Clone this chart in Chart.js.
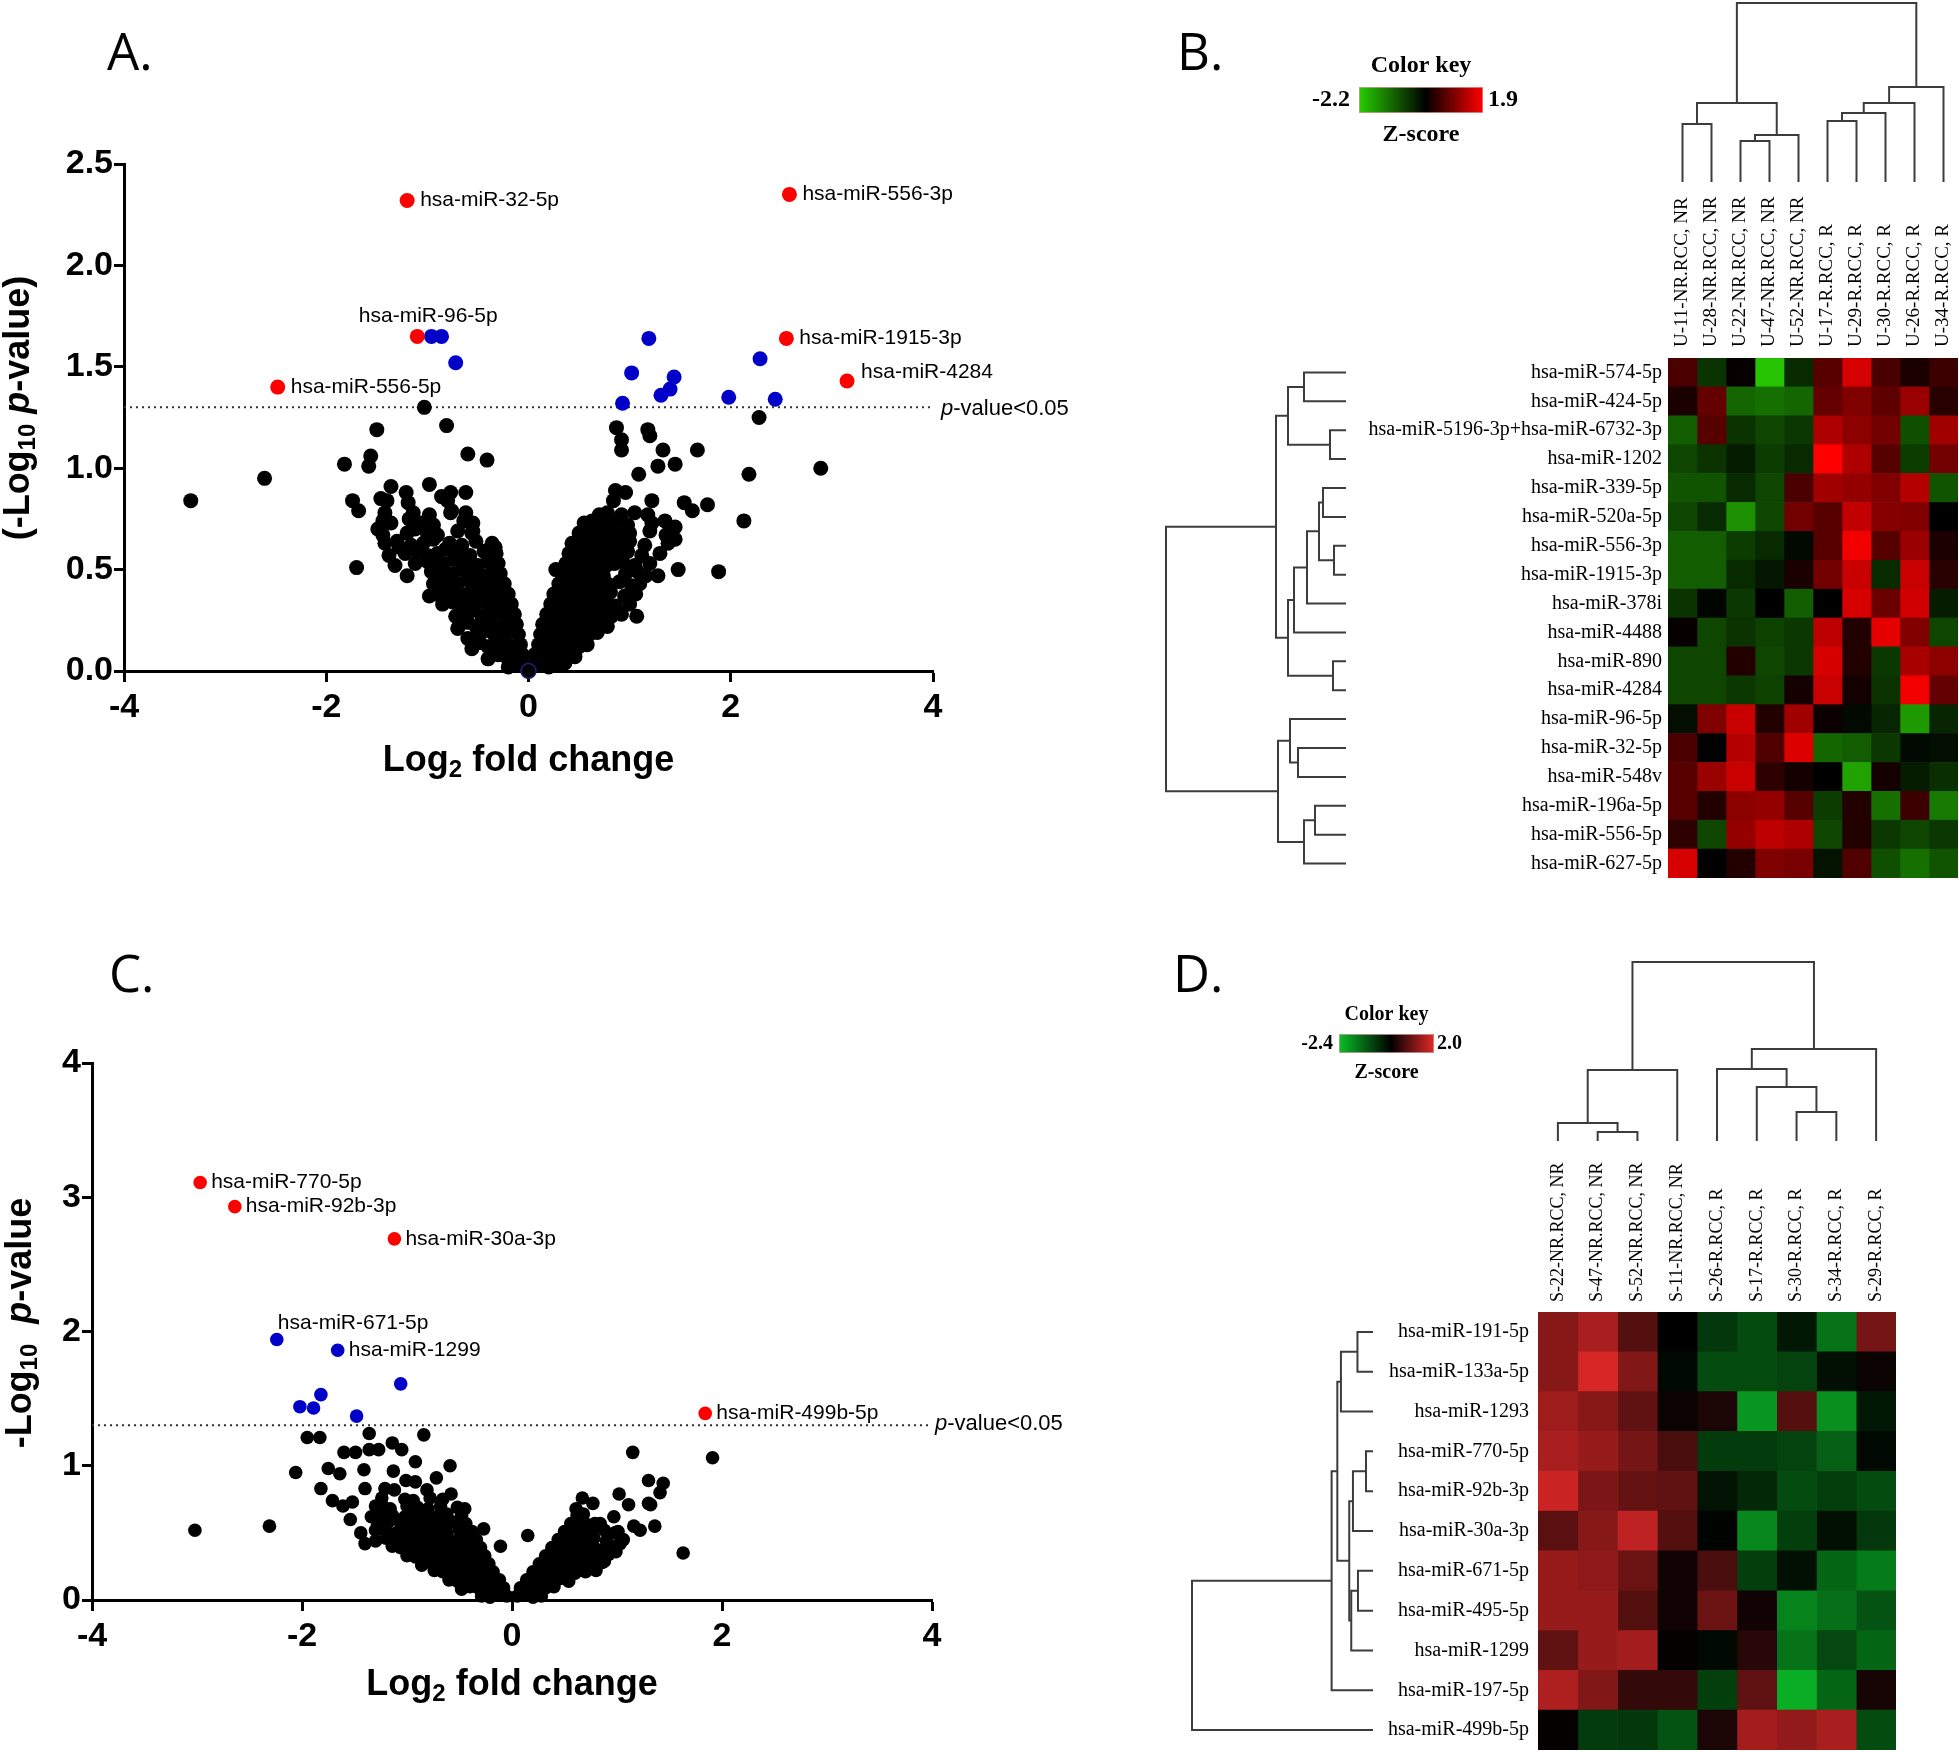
<!DOCTYPE html>
<html>
<head>
<meta charset="utf-8">
<title>miRNA volcano plots and heatmaps</title>
<script src="https://cdn.jsdelivr.net/npm/chart.js@4.4.1/dist/chart.umd.min.js"></script>
<style>
  html,body{margin:0;padding:0;background:#fff;}
  body{position:relative;width:1959px;height:1752px;overflow:hidden;}
  canvas{position:absolute;}
</style>
</head>
<body>
<script>
// ---------- data: panel A (urine) ----------
const pCut = 0.05;
const xTicks = [-4, -2, 0, 2, 4];
const aYTicks = [0, 0.5, 1, 1.5, 2, 2.5];
const cYTicks = [0, 1, 2, 3, 4];

const aRed = [[-1.20,2.32],[2.58,2.35],[-1.10,1.65],[2.55,1.64],[3.15,1.43],[-2.48,1.40]];
const aRedNames = ['hsa-miR-32-5p','hsa-miR-556-3p','hsa-miR-96-5p','hsa-miR-1915-3p','hsa-miR-4284','hsa-miR-556-5p'];
const aBlue = [[-0.96,1.65],[-0.86,1.65],[-0.72,1.52],[1.19,1.64],[1.02,1.47],[1.44,1.45],[1.31,1.36],[1.40,1.39],[0.93,1.32],[1.98,1.35],[2.29,1.54],[2.44,1.34]];
const aOrigin = [[0,0]];
const aBlackOuter = [[-3.34,0.84],[-2.61,0.95],[-1.82,1.02],[-1.56,1.06],[-1.58,1.01],[-1.50,1.19],[-1.03,1.30],[-0.81,1.21],[-0.60,1.07],[-0.41,1.04],
  [-0.98,0.92],[-1.36,0.91],[-1.21,0.88],[-1.19,0.83],[-0.86,0.86],[-0.77,0.88],[-0.62,0.88],[-1.74,0.84],[-1.68,0.79],[-1.49,0.70],[-1.28,0.61],
  [-1.70,0.51],[-1.32,0.52],[-1.20,0.47],[-0.77,0.78],[-0.64,0.74],[-0.55,0.69],[-0.33,0.61],[-1.40,0.84],[-1.42,0.78],[-1.44,0.74],
  [0.87,1.20],[0.92,1.14],[0.92,1.09],[1.18,1.19],[1.20,1.16],[1.33,1.09],[1.67,1.09],[1.28,1.01],[1.45,1.02],[1.09,0.97],[0.86,0.89],[0.96,0.88],
  [0.84,0.84],[1.22,0.84],[1.54,0.83],[1.62,0.79],[1.77,0.82],[2.18,0.97],[2.13,0.74],[2.28,1.25],[1.88,0.49],[1.48,0.50],[1.28,0.47],[1.07,0.27],
  [0.27,0.50],[1.45,0.71],[1.45,0.65],[2.89,1.00]];
const aBlackLeft = [[-0.05,.03],[-0.12,.04],[-0.2,.02],
  [-0.06,.08],[-0.14,.09],[-0.22,.07],[-0.3,.08],[-0.4,.06],
  [-0.08,.13],[-0.16,.12],[-0.24,.14],[-0.32,.13],[-0.4,.12],[-0.48,.14],[-0.56,.11],
  [-0.1,.18],[-0.18,.19],[-0.26,.17],[-0.34,.18],[-0.42,.2],[-0.5,.18],[-0.6,.16],
  [-0.12,.23],[-0.2,.24],[-0.28,.22],[-0.36,.23],[-0.44,.25],[-0.52,.22],[-0.6,.24],[-0.7,.21],
  [-0.14,.28],[-0.22,.27],[-0.3,.29],[-0.38,.28],[-0.46,.27],[-0.54,.3],[-0.62,.28],[-0.72,.27],
  [-0.17,.33],[-0.25,.34],[-0.33,.32],[-0.41,.33],[-0.49,.35],[-0.57,.33],[-0.65,.32],[-0.75,.34],[-0.85,.33],
  [-0.2,.38],[-0.28,.39],[-0.36,.37],[-0.44,.38],[-0.52,.4],[-0.6,.38],[-0.7,.37],[-0.8,.39],[-0.9,.38],[-0.98,.37],
  [-0.24,.43],[-0.32,.44],[-0.4,.42],[-0.5,.43],[-0.6,.45],[-0.7,.43],[-0.78,.42],[-0.86,.44],[-0.94,.43],
  [-0.28,.48],[-0.36,.49],[-0.46,.47],[-0.56,.48],[-0.66,.5],[-0.76,.48],[-0.86,.47],[-0.96,.49],
  [-0.3,.53],[-0.4,.54],[-0.5,.52],[-0.62,.53],[-0.74,.55],[-0.84,.53],[-0.92,.52],[-1.0,.54],[-1.12,.53],
  [-0.32,.58],[-0.44,.59],[-0.58,.57],[-0.7,.58],[-0.82,.6],[-0.9,.58],[-1.0,.57],[-1.1,.59],[-1.22,.58],[-1.38,.57],
  [-0.36,.63],[-0.52,.64],[-0.66,.62],[-0.78,.63],[-0.94,.65],[-1.04,.63],[-1.16,.62],[-1.3,.64],[-1.42,.63],
  [-0.56,.68],[-0.7,.69],[-0.9,.67],[-1.0,.68],[-1.12,.7],[-1.2,.68],[-1.44,.67],
  [-0.55,.73],[-0.62,.74],[-0.94,.72],[-1.06,.73],[-1.18,.75],[-1.36,.73],
  [-0.62,.78],[-0.76,.79],[-0.98,.77],[-1.14,.78],[-0.8,.84],[-1.46,.85]];
const aBlackRight = [[0.05,.03],[0.12,.04],[0.2,.02],[0.28,.03],[0.36,.04],
  [0.06,.08],[0.14,.09],[0.22,.07],[0.3,.08],[0.38,.09],[0.46,.07],
  [0.1,.13],[0.18,.14],[0.26,.12],[0.34,.13],[0.42,.14],[0.5,.12],[0.58,.13],
  [0.12,.18],[0.2,.19],[0.28,.17],[0.36,.18],[0.44,.19],[0.52,.17],[0.6,.18],[0.68,.19],
  [0.14,.23],[0.22,.24],[0.3,.22],[0.38,.23],[0.46,.24],[0.54,.22],[0.62,.23],[0.7,.24],[0.78,.22],
  [0.18,.28],[0.26,.29],[0.34,.27],[0.42,.28],[0.5,.29],[0.58,.27],[0.66,.28],[0.74,.29],[0.82,.27],[0.92,.28],
  [0.22,.33],[0.3,.34],[0.38,.32],[0.46,.33],[0.54,.34],[0.62,.32],[0.7,.33],[0.78,.34],[0.86,.32],[1.0,.33],
  [0.25,.38],[0.33,.39],[0.41,.37],[0.49,.38],[0.57,.39],[0.65,.37],[0.73,.38],[0.81,.39],[0.95,.37],[1.06,.38],
  [0.3,.43],[0.38,.44],[0.46,.42],[0.54,.43],[0.62,.44],[0.7,.42],[0.78,.43],[0.9,.44],[1.02,.42],[1.1,.43],
  [0.34,.48],[0.42,.49],[0.5,.47],[0.58,.48],[0.66,.49],[0.74,.47],[0.96,.48],[1.08,.49],[1.16,.47],
  [0.37,.53],[0.45,.54],[0.53,.52],[0.61,.53],[0.69,.54],[0.77,.52],[0.85,.53],[0.93,.54],[1.05,.52],[1.2,.53],
  [0.4,.58],[0.48,.59],[0.56,.57],[0.64,.58],[0.72,.59],[0.8,.57],[0.88,.58],[0.98,.59],[1.12,.57],[1.3,.58],
  [0.43,.63],[0.51,.64],[0.59,.62],[0.67,.63],[0.75,.64],[0.83,.62],[0.91,.63],[1.0,.64],[1.15,.62],[1.38,.63],
  [0.5,.68],[0.58,.69],[0.66,.67],[0.74,.68],[0.82,.69],[0.9,.67],[1.0,.68],[1.2,.69],[1.36,.67],
  [0.55,.73],[0.63,.74],[0.72,.72],[0.8,.73],[0.88,.74],[0.98,.72],[1.22,.73],[1.35,.74],
  [0.7,.77],[0.78,.78],[0.92,.77],[1.05,.78],[1.18,.77]];

// ---------- data: panel C (serum) ----------
const cRed = [[-2.97,3.11],[-2.64,2.93],[-1.12,2.69],[1.84,1.39]];
const cRedNames = ['hsa-miR-770-5p','hsa-miR-92b-3p','hsa-miR-30a-3p','hsa-miR-499b-5p'];
const cBlue = [[-2.24,1.94],[-1.66,1.86],[-1.06,1.61],[-1.82,1.53],[-2.02,1.44],[-1.89,1.43],[-1.48,1.37]];
const cBlueNames = ['hsa-miR-671-5p','hsa-miR-1299','','','','',''];
const cBlackOuter = [[-3.02,0.52],[-2.31,0.55],[-2.06,0.95],[-1.95,1.21],[-1.83,1.21],[-1.36,1.24],[-0.84,1.23],[-1.82,0.83],[-1.71,0.74],
  [-1.54,0.60],[-1.40,0.42],[-1.75,0.98],[-1.64,0.94],[-1.60,1.10],[-1.49,1.10],[-1.36,1.12],[-1.27,1.12],[-1.14,1.17],[-1.05,1.12],
  [-0.92,1.03],[-1.41,0.97],[-1.13,0.96],[-1.01,0.89],[-0.92,0.88],[-0.72,0.91],[-0.59,1.00],[-0.81,0.82],[-0.58,0.79],[-1.40,0.83],
  [-1.21,0.83],[-1.12,0.82],[-1.61,0.70],[-1.52,0.73],[-1.30,0.70],[-0.45,0.68],[-0.27,0.53],[-0.11,0.40],[0.15,0.48],
  [1.15,1.10],[1.91,1.06],[1.63,0.35],[1.30,0.89],[1.44,0.87],[1.41,0.80],[1.32,0.71],[1.02,0.79],[1.11,0.71],[0.67,0.76],
  [0.77,0.72],[0.61,0.68],[1.36,0.55],[1.16,0.55],[1.22,0.52],[0.97,0.62],[1.01,0.51],[1.03,0.42],[0.99,0.36],[0.66,0.62],
  [0.79,0.57],[0.88,0.29],[1.30,0.72]];
const cBlackLeft = [[-0.05,.03],[-0.13,.04],[-0.21,.02],[-0.29,.03],
  [-0.08,.09],[-0.16,.1],[-0.24,.08],[-0.32,.09],[-0.4,.1],[-0.48,.08],
  [-0.12,.15],[-0.2,.16],[-0.28,.14],[-0.36,.15],[-0.44,.16],[-0.52,.14],[-0.6,.15],
  [-0.18,.21],[-0.26,.22],[-0.34,.2],[-0.42,.21],[-0.5,.22],[-0.58,.2],[-0.66,.21],[-0.74,.22],
  [-0.22,.27],[-0.3,.28],[-0.38,.26],[-0.46,.27],[-0.54,.28],[-0.62,.26],[-0.7,.27],[-0.78,.28],[-0.86,.26],
  [-0.26,.33],[-0.35,.34],[-0.44,.32],[-0.52,.33],[-0.6,.34],[-0.68,.32],[-0.76,.33],[-0.84,.34],[-0.92,.32],[-1.0,.33],
  [-0.3,.39],[-0.4,.4],[-0.5,.38],[-0.58,.39],[-0.66,.4],[-0.74,.38],[-0.82,.39],[-0.9,.4],[-0.98,.38],[-1.06,.39],[-1.14,.4],
  [-0.34,.45],[-0.46,.46],[-0.56,.44],[-0.64,.45],[-0.72,.46],[-0.8,.44],[-0.88,.45],[-0.96,.46],[-1.04,.44],[-1.12,.45],[-1.2,.46],[-1.3,.44],
  [-0.38,.51],[-0.5,.52],[-0.62,.5],[-0.7,.51],[-0.78,.52],[-0.86,.5],[-0.94,.51],[-1.02,.52],[-1.1,.5],[-1.2,.51],[-1.3,.52],[-1.44,.5],
  [-0.44,.57],[-0.56,.58],[-0.66,.56],[-0.76,.57],[-0.86,.58],[-0.96,.56],[-1.06,.57],[-1.18,.58],[-1.28,.56],
  [-0.48,.63],[-0.62,.64],[-0.72,.62],[-0.82,.63],[-0.92,.64],[-1.02,.62],[-1.14,.63],[-1.26,.64],[-1.34,.62],
  [-0.52,.69],[-0.68,.7],[-0.8,.68],[-0.9,.69],[-1.0,.7],[-1.16,.68],[-1.22,.69],
  [-0.66,.75],[-0.78,.76],[-0.94,.74],[-1.02,.75],[-1.24,.76]];
const cBlackRight = [[0.05,.03],[0.12,.04],[0.2,.02],[0.28,.03],
  [0.08,.09],[0.16,.1],[0.24,.08],[0.32,.09],[0.4,.1],
  [0.14,.15],[0.22,.16],[0.3,.14],[0.38,.15],[0.46,.16],[0.54,.14],
  [0.2,.21],[0.28,.22],[0.36,.2],[0.44,.21],[0.52,.22],[0.6,.2],[0.7,.21],[0.8,.22],
  [0.26,.27],[0.34,.28],[0.42,.26],[0.5,.27],[0.58,.28],[0.66,.26],[0.76,.27],[0.86,.28],
  [0.32,.33],[0.4,.34],[0.48,.32],[0.56,.33],[0.64,.34],[0.72,.32],[0.82,.33],[0.92,.34],
  [0.38,.39],[0.46,.4],[0.54,.38],[0.62,.39],[0.7,.4],[0.8,.38],[0.9,.39],[0.98,.4],
  [0.44,.45],[0.52,.46],[0.6,.44],[0.68,.45],[0.78,.46],[0.9,.44],[1.06,.45],
  [0.5,.51],[0.58,.52],[0.66,.5],[0.76,.51],[0.88,.52],[0.98,.5],
  [0.56,.57],[0.64,.58],[0.72,.56],[0.84,.57],[0.62,.63],[0.68,.64]];

// ---------- data: panel B heatmap (urine) ----------
const bRows = ['hsa-miR-574-5p','hsa-miR-424-5p','hsa-miR-5196-3p+hsa-miR-6732-3p','hsa-miR-1202','hsa-miR-339-5p','hsa-miR-520a-5p',
  'hsa-miR-556-3p','hsa-miR-1915-3p','hsa-miR-378i','hsa-miR-4488','hsa-miR-890','hsa-miR-4284','hsa-miR-96-5p','hsa-miR-32-5p',
  'hsa-miR-548v','hsa-miR-196a-5p','hsa-miR-556-5p','hsa-miR-627-5p'];
const bCols = ['U-11-NR.RCC, NR','U-28-NR.RCC, NR','U-22-NR.RCC, NR','U-47-NR.RCC, NR','U-52-NR.RCC, NR',
  'U-17-R.RCC, R','U-29-R.RCC, R','U-30-R.RCC, R','U-26-R.RCC, R','U-34-R.RCC, R'];
const bZ = [
  [0.55,-0.55,0.05,-2.10,-0.45,0.65,1.60,0.55,0.20,0.45],
  [0.20,0.75,-1.10,-1.20,-1.10,0.75,0.95,0.70,1.15,0.30],
  [-1.00,0.65,-0.55,-0.75,-0.60,1.30,1.05,0.85,-0.85,1.20],
  [-0.75,-0.55,-0.30,-0.65,-0.45,1.90,1.30,0.65,-0.65,0.85],
  [-0.90,-0.90,-0.45,-0.75,0.55,1.20,1.10,0.95,1.35,-0.90],
  [-0.75,-0.45,-1.55,-0.75,0.85,0.65,1.45,1.00,0.95,0.00],
  [-1.00,-1.00,-0.65,-0.45,-0.10,0.65,1.80,0.65,1.15,0.20],
  [-1.00,-1.00,-0.45,-0.25,0.20,0.85,1.50,-0.45,1.50,0.30],
  [-0.55,-0.05,-0.60,0.00,-1.00,0.00,1.60,0.80,1.55,-0.30],
  [0.05,-0.75,-0.55,-0.70,-0.60,1.40,0.25,1.70,0.95,-0.75],
  [-0.75,-0.75,0.25,-0.75,-0.60,1.60,0.25,-0.60,1.25,1.05],
  [-0.75,-0.75,-0.60,-0.70,0.15,1.50,0.15,-0.55,1.80,0.75],
  [-0.15,0.95,1.50,0.25,1.20,0.10,-0.10,-0.40,-1.65,-0.40],
  [0.55,0.00,1.35,0.60,1.65,-1.10,-1.00,-0.60,-0.10,-0.15],
  [0.65,1.15,1.50,0.35,0.15,0.00,-1.75,0.15,-0.30,-0.50],
  [0.65,0.25,1.05,1.10,0.65,-0.65,0.25,-1.20,0.45,-1.30],
  [0.35,-0.75,1.10,1.40,1.30,-0.75,0.25,-0.60,-0.75,-0.60],
  [1.60,0.00,0.25,0.95,0.90,-0.20,0.60,-0.85,-1.20,-0.90]];
const bKey = [-2.2, 1.9];
// merges: negative = leaf (1-based), positive = earlier merge (1-based), then height
const bColMerges = [[-1,-2,58],[-3,-4,41],[2,-5,47],[1,3,79],[-6,-7,61],[5,-8,69],[6,-9,79],[7,-10,95],[4,8,179]];
const bRowMerges = [[-1,-2,42],[-3,-4,16],[1,2,58],[-5,-6,23],[-7,-8,12],[4,5,27],[6,-9,39],[7,-10,52],[-11,-12,13],
  [8,9,58],[3,10,70],[-14,-15,48],[-13,12,56],[-16,-17,31],[14,-18,42],[13,15,68],[11,16,180]];

// ---------- data: panel D heatmap (serum) ----------
const dRows = ['hsa-miR-191-5p','hsa-miR-133a-5p','hsa-miR-1293','hsa-miR-770-5p','hsa-miR-92b-3p','hsa-miR-30a-3p',
  'hsa-miR-671-5p','hsa-miR-495-5p','hsa-miR-1299','hsa-miR-197-5p','hsa-miR-499b-5p'];
const dCols = ['S-22-NR.RCC, NR','S-47-NR.RCC, NR','S-52-NR.RCC, NR','S-11-NR.RCC, NR','S-26-R.RCC, R',
  'S-17-R.RCC, R','S-30-R.RCC, R','S-34-R.RCC, R','S-29-R.RCC, R'];
const dZ = [
  [1.20,1.50,0.75,0.00,-0.70,-0.95,-0.30,-1.45,1.05],
  [1.20,1.90,1.15,-0.10,-0.95,-0.95,-0.85,-0.20,0.10],
  [1.40,1.20,0.85,0.10,0.25,-1.90,0.75,-1.80,-0.30],
  [1.50,1.35,1.05,0.65,-0.75,-0.75,-0.85,-1.20,-0.10],
  [1.80,1.10,0.90,0.85,-0.25,-0.50,-0.95,-0.80,-0.95],
  [0.80,1.20,1.70,0.75,-0.05,-1.70,-0.80,-0.20,-0.70],
  [1.35,1.25,0.95,0.15,0.65,-0.80,-0.20,-1.30,-1.55],
  [1.35,1.35,0.75,0.15,0.95,0.15,-1.65,-1.40,-1.05],
  [0.85,1.35,1.45,0.05,-0.10,0.35,-1.45,-0.90,-1.30],
  [1.55,1.15,0.45,0.45,-0.80,0.85,-2.20,-1.30,0.20],
  [0.05,-0.75,-0.70,-1.05,0.25,1.45,1.30,1.50,-0.95]];
const dKey = [-2.4, 2.0];
const dColMerges = [[-2,-3,9],[-1,1,18],[2,-4,71],[-7,-8,29],[-6,4,54],[-5,5,72],[6,-9,92],[3,7,179]];
const dRowMerges = [[-1,-2,15.5],[1,-3,32],[-4,-5,7],[3,-6,20],[-7,-8,15],[5,-9,21.7],[4,6,23.7],[2,7,35.6],[8,-10,41.3],[9,-11,180.6]];

// ---------- styles ----------
const SANS = "'Liberation Sans', Arial, sans-serif";
const SERIF = "'Liberation Serif', 'Times New Roman', serif";
const LETTER = "51px 'Open Sans', 'Liberation Sans', sans-serif";
Chart.defaults.animation = false;
Chart.defaults.responsive = false;
Chart.defaults.events = [];
Chart.defaults.plugins.legend.display = false;
Chart.defaults.plugins.tooltip.enabled = false;

function canvasAt(left, top, w, h) {
  const c = document.createElement('canvas');
  c.width = w; c.height = h;
  c.style.left = left + 'px'; c.style.top = top + 'px';
  c.style.width = w + 'px'; c.style.height = h + 'px';
  document.body.appendChild(c);
  return c;
}

// draws a run of text pieces (font changes, subscripts) centred or left-aligned
function rich(ctx, parts, x, y, align, rot) {
  ctx.save();
  ctx.translate(x, y);
  if (rot) ctx.rotate(rot);
  ctx.textBaseline = 'middle'; ctx.textAlign = 'left'; ctx.fillStyle = '#000';
  let w = 0;
  for (const p of parts) { ctx.font = p[1]; w += ctx.measureText(p[0]).width; }
  let cx = align === 'center' ? -w / 2 : 0;
  for (const p of parts) { ctx.font = p[1]; ctx.fillText(p[0], cx, p[2] || 0); cx += ctx.measureText(p[0]).width; }
  ctx.restore();
}

const xy = p => ({x: p[0], y: p[1]});

function volcano(canvas, d) {
  const thr = -Math.log10(pCut);
  const tickFont = {family: SANS, weight: 'bold', size: 34};
  const axis = (ticks, fmt, fit) => ({
    type: 'linear', min: ticks[0], max: ticks[ticks.length - 1],
    afterBuildTicks: s => { s.ticks = ticks.map(v => ({value: v})); },
    afterFit: fit,
    ticks: {font: tickFont, color: '#000', padding: 0, callback: fmt},
    grid: {drawOnChartArea: false, drawTicks: true, tickLength: 10, tickWidth: 3, tickColor: '#000'},
    border: {display: true, width: 3, color: '#000'}
  });
  const xAxis = axis(xTicks, v => String(v), s => { s.height = 60; });
  xAxis.ticks.padding = 5; xAxis.grid.tickLength = 11;
  const yAxis = axis(d.yTicks, d.yFmt, s => { s.width = d.yWidth; });
  yAxis.ticks.padding = 1;

  return new Chart(canvas, {
    type: 'scatter',
    data: {datasets: [
      {data: d.origin.map(xy), backgroundColor: '#000', borderColor: '#20207a', borderWidth: 1.5, pointRadius: d.r, order: 0, clip: false},
      {data: d.red.map(xy), backgroundColor: '#ff0000', borderWidth: 0, pointRadius: d.r, order: 1, clip: false},
      {data: d.blue.map(xy), backgroundColor: '#0000c8', borderWidth: 0, pointRadius: d.r, order: 2, clip: false},
      {data: d.black.map(xy), backgroundColor: '#000', borderWidth: 0, pointRadius: d.r, order: 3, clip: false},
      {data: [{x: xTicks[0], y: thr}, {x: xTicks[xTicks.length - 1], y: thr}], showLine: true, borderColor: '#333',
       borderWidth: 2, borderDash: [2, 4], pointRadius: 0, order: 4}
    ]},
    options: {layout: {padding: d.pad}, scales: {x: xAxis, y: yAxis}},
    plugins: [{id: 'volcanoText', afterDraw(chart) {
      const {ctx, chartArea: a, scales: {x, y}} = chart;
      ctx.save();
      ctx.font = LETTER; ctx.fillStyle = '#000'; ctx.textBaseline = 'alphabetic'; ctx.textAlign = 'left';
      ctx.fillText(d.letter[0], d.letter[1], d.letter[2]);
      ctx.restore();
      rich(ctx, d.yTitle, d.yTitlePos[0], d.yTitlePos[1], 'center', -Math.PI / 2);
      rich(ctx, [['Log', `bold 36px ${SANS}`], ['2', `bold 24px ${SANS}`, 9], [' fold change', `bold 36px ${SANS}`]],
        (a.left + a.right) / 2, a.bottom + d.xTitleGap, 'center');
      rich(ctx, [['p', `italic 22px ${SANS}`], ['-value<0.05', `22px ${SANS}`]],
        x.getPixelForValue(xTicks[xTicks.length - 1]) + d.thrGap[0], y.getPixelForValue(thr) + d.thrGap[1], 'left');
      const lab = (pts, names) => pts.forEach((p, i) => {
        if (!names[i]) return;
        const o = d.labelPos[names[i]] || d.labelDefault;
        rich(ctx, [[names[i], `21px ${SANS}`]], x.getPixelForValue(p[0]) + o[0], y.getPixelForValue(p[1]) + o[1], o[2]);
      });
      lab(d.red, d.redNames); lab(d.blue, d.blueNames);
    }}]
  });
}

function dendroSegments(merges) {
  const pos = [], ht = [], segs = [];
  const get = k => k < 0 ? [-k - 1, 0] : [pos[k - 1], ht[k - 1]];
  merges.forEach(([a, b, h], i) => {
    const [pa, ha] = get(a), [pb, hb] = get(b);
    segs.push([[pa, ha], [pa, h], [pb, h], [pb, hb]]);
    pos[i] = (pa + pb) / 2; ht[i] = h;
  });
  return segs;
}

function dendro(canvas, merges, nLeaves, onTop, pad) {
  const root = merges[merges.length - 1][2];
  const posScale = {type: 'linear', min: -0.5, max: nLeaves - 0.5, display: false};
  const hScale = {type: 'linear', min: 0, max: root, display: false};
  const toPts = s => s.map(([p, h]) => onTop ? {x: p, y: h} : {x: h, y: p});
  return new Chart(canvas, {
    type: 'scatter',
    data: {datasets: dendroSegments(merges).map(s => ({data: toPts(s), showLine: true, borderColor: '#3c3c3c',
      borderWidth: 2, pointRadius: 0, clip: false, borderJoinStyle: 'miter'}))},
    options: {layout: {padding: pad},
      scales: onTop ? {x: posScale, y: hScale} : {x: {...hScale, reverse: true}, y: {...posScale, reverse: true}}}
  });
}

function heatmap(canvas, rows, cols, z, colorFn, pad, st) {
  return new Chart(canvas, {
    type: 'bar',
    data: {labels: rows, datasets: cols.map((c, j) => ({label: c, data: rows.map(() => 1),
      backgroundColor: cx => colorFn(z[cx.dataIndex][j]), borderWidth: 0}))},
    options: {indexAxis: 'y', layout: {padding: pad},
      datasets: {bar: {barPercentage: 1, categoryPercentage: 1}},
      scales: {x: {type: 'linear', stacked: true, min: 0, max: cols.length, display: false},
               y: {stacked: true, display: false}}},
    plugins: [{id: 'heatLabels', afterDraw(chart) {
      const {ctx, chartArea: a, scales: {x, y}} = chart;
      ctx.save();
      ctx.fillStyle = '#000'; ctx.textBaseline = 'middle';
      ctx.font = `${st.rowSize}px ${SERIF}`; ctx.textAlign = 'right';
      rows.forEach((r, i) => ctx.fillText(r, a.left - st.rowGap, y.getPixelForValue(i)));
      ctx.font = `${st.colSize}px ${SERIF}`; ctx.textAlign = 'left';
      cols.forEach((c, j) => {
        ctx.save();
        ctx.translate(x.getPixelForValue(j + 0.5), a.top - st.colGap);
        ctx.rotate(-Math.PI / 2);
        ctx.fillText(c, 0, 0);
        ctx.restore();
      });
      ctx.restore();
    }}]
  });
}

function colorKey(canvas, range, colorFn, pad, st) {
  return new Chart(canvas, {
    type: 'bar',
    data: {labels: ['Z-score'], datasets: [{data: [range], borderWidth: 1, borderColor: 'rgba(200,120,120,0.7)', borderSkipped: false,
      backgroundColor: cx => {
        const a = cx.chart.chartArea;
        if (!a) return '#000';
        const g = cx.chart.ctx.createLinearGradient(a.left, 0, a.right, 0);
        g.addColorStop(0, colorFn(range[0]));
        g.addColorStop(-range[0] / (range[1] - range[0]), 'rgb(0,0,0)');
        g.addColorStop(1, colorFn(range[1]));
        return g;
      }}]},
    options: {indexAxis: 'y', layout: {padding: pad},
      datasets: {bar: {barPercentage: 1, categoryPercentage: 1}},
      scales: {x: {type: 'linear', min: range[0], max: range[1], display: false}, y: {display: false}}},
    plugins: [{id: 'keyText', afterDraw(chart) {
      const {ctx, chartArea: a, scales: {x}} = chart;
      const f = `bold ${st.size}px ${SERIF}`;
      ctx.save();
      ctx.font = LETTER; ctx.fillStyle = '#000'; ctx.textAlign = 'left'; ctx.textBaseline = 'alphabetic';
      ctx.fillText(st.letter[0], st.letter[1], st.letter[2]);
      ctx.font = f; ctx.textAlign = 'center';
      ctx.fillText('Color key', (a.left + a.right) / 2, a.top - st.above);
      ctx.fillText('Z-score', (a.left + a.right) / 2, a.bottom + st.below);
      ctx.textBaseline = 'middle';
      ctx.textAlign = 'right';
      ctx.fillText(range[0].toFixed(1), x.getPixelForValue(range[0]) - st.side[0], (a.top + a.bottom) / 2);
      ctx.textAlign = 'left';
      ctx.fillText(range[1].toFixed(1), x.getPixelForValue(range[1]) + st.side[1], (a.top + a.bottom) / 2);
      ctx.restore();
    }}]
  });
}

const colB = z => {
  if (z < 0) { const t = Math.min(1, -z / 2.2); return `rgb(${Math.round(40 * t)},${Math.round(205 * t)},0)`; }
  const t = Math.min(1, z / 1.9); return `rgb(${Math.round(255 * t)},0,0)`;
};
const colD = z => {
  if (z < 0) { const t = Math.min(1, -z / 2.4); return `rgb(${Math.round(10 * t)},${Math.round(190 * t)},${Math.round(40 * t)})`; }
  const t = Math.min(1, z / 2.0); return `rgb(${Math.round(225 * t)},${Math.round(40 * t)},${Math.round(40 * t)})`;
};

// ---------- panel A ----------
volcano(canvasAt(0, 0, 1100, 820), {
  red: aRed, redNames: aRedNames, blue: aBlue, blueNames: [], origin: aOrigin,
  black: aBlackOuter.concat(aBlackLeft, aBlackRight), r: 7.5,
  yTicks: aYTicks, yFmt: v => v.toFixed(1), yWidth: 124,
  pad: {left: 0, top: 164, right: 167, bottom: 89},
  letter: ['A.', 107, 70],
  yTitle: [['(-Log', `bold 36px ${SANS}`], ['10', `bold 24px ${SANS}`, 9], [' ', `bold 36px ${SANS}`],
           ['p', `italic bold 36px ${SANS}`], ['-value)', `bold 36px ${SANS}`]],
  yTitlePos: [19, 408], xTitleGap: 90, thrGap: [8, 2],
  labelPos: {'hsa-miR-96-5p': [11, -20, 'center'], 'hsa-miR-4284': [14, -9, 'left']},
  labelDefault: [13, 0, 'left']
});

// ---------- panel C ----------
volcano(canvasAt(0, 900, 1100, 852), {
  red: cRed, redNames: cRedNames, blue: cBlue, blueNames: cBlueNames, origin: [],
  black: cBlackOuter.concat(cBlackLeft, cBlackRight), r: 6.8,
  yTicks: cYTicks, yFmt: v => String(v), yWidth: 92,
  pad: {left: 0, top: 163, right: 168, bottom: 92},
  letter: ['C.', 109, 92],
  yTitle: [['-Log', `bold 36px ${SANS}`], ['10', `bold 24px ${SANS}`, 9], ['  ', `bold 36px ${SANS}`],
           ['p', `italic bold 36px ${SANS}`], ['-value', `bold 36px ${SANS}`]],
  yTitlePos: [21, 423], xTitleGap: 85, thrGap: [3, -1],
  labelPos: {'hsa-miR-671-5p': [1, -16, 'left']},
  labelDefault: [11, 0, 'left']
});

// ---------- panel B ----------
colorKey(canvasAt(1150, 20, 400, 140), bKey, colB, {left: 209, right: 67, top: 67, bottom: 47},
  {size: 24, above: 15, below: 28, side: [9, 5], letter: ['B.', 27, 50]});
dendro(canvasAt(1660, 0, 299, 186), bColMerges, bCols.length, true, {left: 8, right: 1, top: 3, bottom: 4});
dendro(canvasAt(1160, 350, 200, 536), bRowMerges, bRows.length, false, {left: 6, right: 14, top: 8, bottom: 8});
heatmap(canvasAt(1100, 186, 859, 694), bRows, bCols, bZ, colB, {left: 568, top: 172, right: 1, bottom: 2},
  {rowSize: 20, colSize: 19, rowGap: 6, colGap: 11});

// ---------- panel D ----------
colorKey(canvasAt(1150, 940, 330, 150), dKey, colD, {left: 189, right: 46, top: 94, bottom: 37},
  {size: 20, above: 14, below: 25, side: [6, 3], letter: ['D.', 23, 52]});
dendro(canvasAt(1530, 955, 380, 190), dColMerges, dCols.length, true, {left: 8, right: 14, top: 7, bottom: 4});
dendro(canvasAt(1185, 1305, 200, 447), dRowMerges, dRows.length, false, {left: 7, right: 12, top: 7, bottom: 2});
heatmap(canvasAt(1100, 1140, 820, 612), dRows, dCols, dZ, colD, {left: 438, top: 172, right: 24, bottom: 2},
  {rowSize: 20, colSize: 18, rowGap: 9, colGap: 10});
</script>
</body>
</html>
